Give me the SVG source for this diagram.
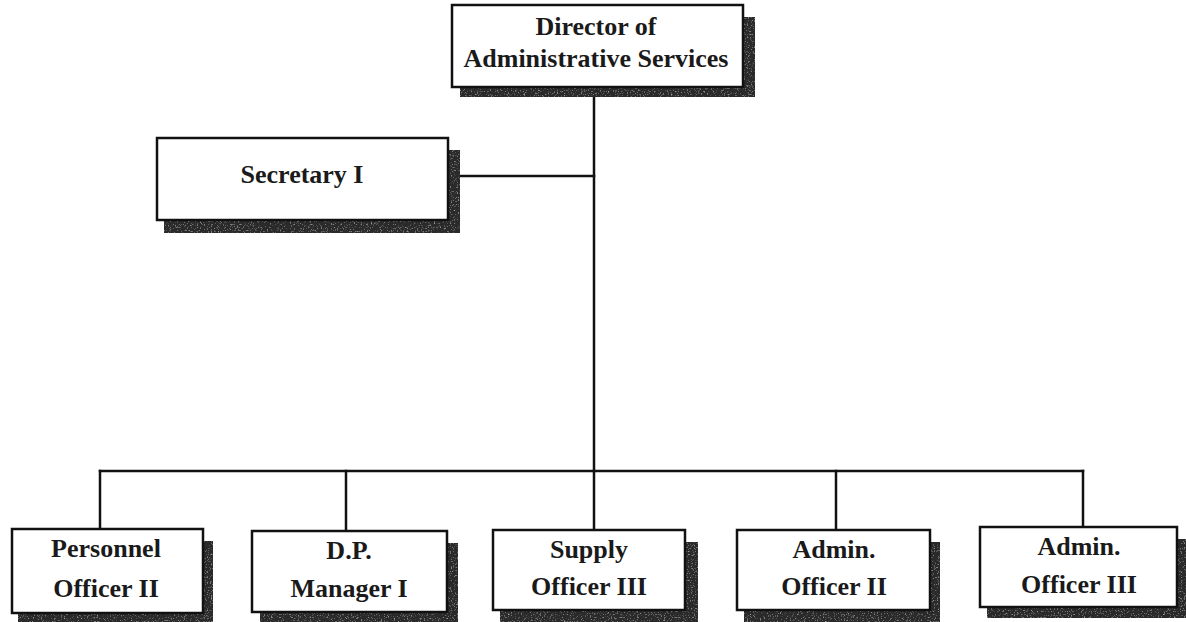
<svg xmlns="http://www.w3.org/2000/svg" width="1186" height="622" viewBox="0 0 1186 622">
  <style>
    .box { fill: #ffffff; stroke: #111111; stroke-width: 2.5; }
    .shadow { fill: #2a2a2a; filter: url(#grain); }
    .lbl { font-family: "Liberation Serif", "Times New Roman", serif; font-weight: bold; font-size: 26px; fill: #1a1a1a; text-anchor: middle; }
    .conn { fill: none; stroke: #111111; stroke-width: 2.5; stroke-linecap: square; }
  </style>
  <defs>
    <filter id="grain" x="0" y="0" width="100%" height="100%">
      <feTurbulence type="fractalNoise" baseFrequency="0.7" numOctaves="2" seed="3" result="n"/>
      <feColorMatrix in="n" type="matrix" values="0 0 0 0 0.45  0 0 0 0 0.45  0 0 0 0 0.45  0 0 0 2.5 -1.45" result="spots"/>
      <feComposite in="spots" in2="SourceGraphic" operator="in" result="sp"/>
      <feMerge><feMergeNode in="SourceGraphic"/><feMergeNode in="sp"/></feMerge>
    </filter>
  </defs>
  <rect width="1186" height="622" fill="#ffffff"/>

  <g id="connectors">
    <path class="conn" d="M594 97 V471"/>
    <path class="conn" d="M460 176 H594"/>
    <path class="conn" d="M100 471 H1083"/>
    <path class="conn" d="M100 471 V529"/>
    <path class="conn" d="M346 471 V530"/>
    <path class="conn" d="M594 471 V530"/>
    <path class="conn" d="M836 471 V530"/>
    <path class="conn" d="M1083 471 V527"/>
  </g>

  <g id="director">
    <path class="shadow" d="M743 17 H755 V97 H460 V87 H743 Z"/>
    <rect class="box" x="452" y="5" width="291" height="82"/>
    <text class="lbl" x="596" y="35" font-size="27">Director of</text>
    <text class="lbl" x="596" y="67" font-size="27">Administrative Services</text>
  </g>

  <g id="secretary">
    <path class="shadow" d="M448 150 H460 V233 H164 V220 H448 Z"/>
    <rect class="box" x="157" y="138" width="291" height="82"/>
    <text class="lbl" x="302" y="183" font-size="27">Secretary I</text>
  </g>

  <g id="personnel">
    <path class="shadow" d="M203 541 H213 V622 H18 V613 H203 Z"/>
    <rect class="box" x="12" y="529" width="191" height="84"/>
    <text class="lbl" x="106" y="557">Personnel</text>
    <text class="lbl" x="106" y="597">Officer II</text>
  </g>

  <g id="dp-manager">
    <path class="shadow" d="M447 543 H458 V622 H260 V612 H447 Z"/>
    <rect class="box" x="252" y="531" width="195" height="81"/>
    <text class="lbl" x="349" y="559">D.P.</text>
    <text class="lbl" x="349" y="597">Manager I</text>
  </g>

  <g id="supply">
    <path class="shadow" d="M685 542 H698 V622 H500 V610 H685 Z"/>
    <rect class="box" x="493" y="530" width="192" height="80"/>
    <text class="lbl" x="589" y="558">Supply</text>
    <text class="lbl" x="589" y="595">Officer III</text>
  </g>

  <g id="admin-2">
    <path class="shadow" d="M930 542 H940 V622 H744 V610 H930 Z"/>
    <rect class="box" x="737" y="530" width="193" height="80"/>
    <text class="lbl" x="834" y="558">Admin.</text>
    <text class="lbl" x="834" y="595">Officer II</text>
  </g>

  <g id="admin-3">
    <path class="shadow" d="M1177 539 H1186 V618 H987 V607 H1177 Z"/>
    <rect class="box" x="980" y="527" width="197" height="80"/>
    <text class="lbl" x="1079" y="555">Admin.</text>
    <text class="lbl" x="1079" y="593">Officer III</text>
  </g>
</svg>
